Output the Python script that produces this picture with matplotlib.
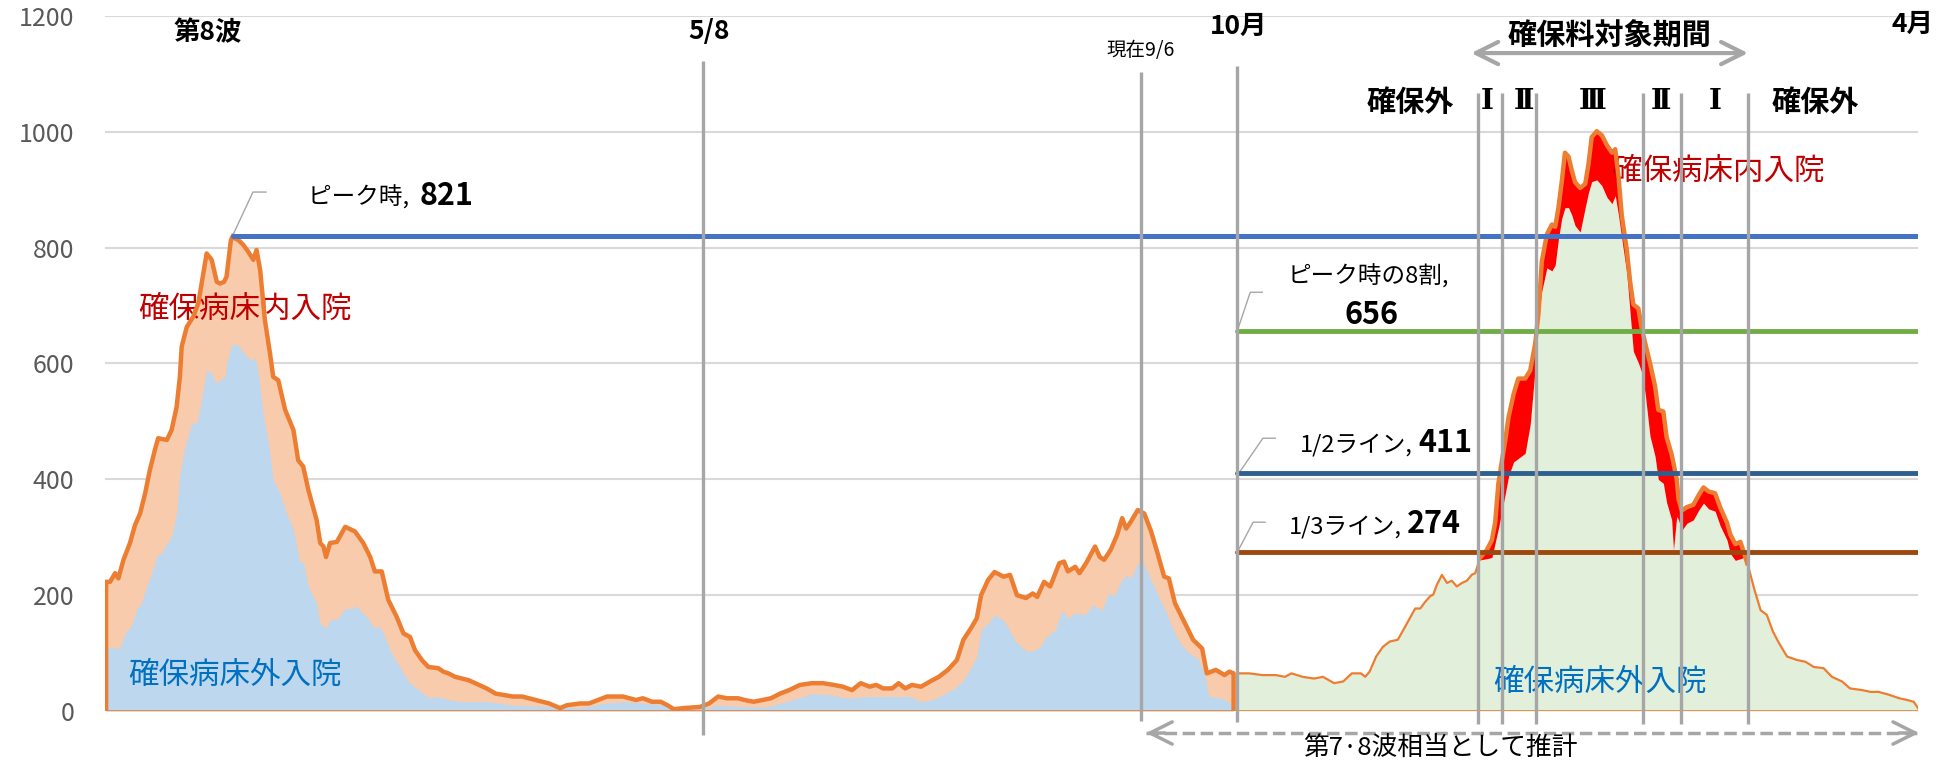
import numpy as np
import matplotlib.pyplot as plt

plt.rcParams['font.family'] = ['Noto Sans CJK JP', 'DejaVu Sans']

# 実績（第8波〜10月）: 経過日数, 入院者数合計
act_day = [0.3, 1.4, 2.8, 3.7, 5.1, 6.9, 8.3, 9.7, 11.1, 12.4,
           13.8, 14.7, 17.1, 18.4, 19.8, 20.7, 21.2, 22.6, 24.4, 25.8,
           26.7, 28.1, 29.5, 30.9, 31.8, 32.9, 33.6, 34.8, 35.4, 35.9,
           36.9, 38.2, 39.6, 41.0, 41.9, 42.9, 44.2, 45.6, 46.5, 47.9,
           49.8, 52.1, 53.4, 54.8, 56.2, 58.5, 59.5, 60.4, 61.1, 62.2,
           64.1, 66.4, 69.1, 71.4, 73.3, 74.6, 76.5, 78.3, 80.6, 82.5,
           84.3, 85.7, 87.6, 89.4, 92.1, 93.5, 94.9, 96.8, 100.6, 105.5,
           108.0, 112.8, 115.3, 119.1, 122.8, 125.8, 127.7, 131.3, 133.8, 136.3,
           138.8, 143.2, 145.0, 146.8, 148.7, 151.2, 153.6, 155.5, 157.3, 159.8,
           164.5, 167.0, 169.5, 171.9, 175.0, 176.8, 179.3, 181.8, 184.1, 186.6,
           189.1, 192.1, 195.4, 198.5, 201.5, 204.0, 206.5, 208.9, 211.4, 213.2,
           215.1, 217.6, 219.4, 221.2, 223.1, 225.6, 228.1, 230.5, 233.0, 235.5,
           237.3, 239.1, 241.0, 242.2, 244.1, 245.9, 248.4, 250.2, 252.1, 254.6,
           256.5, 257.7, 259.6, 261.3, 263.8, 265.1, 266.2, 268.2, 269.4, 271.2,
           273.7, 275.0, 276.2, 278.0, 279.8, 281.2, 282.3, 283.6, 285.5, 287.3,
           289.2, 291.0, 292.8, 294.1, 295.8, 299.0, 300.8, 303.3, 304.6, 307.1,
           309.5, 310.8, 312.0]
act_total = [223, 223, 238, 229, 261, 290, 321, 341, 376, 416,
             451, 471, 468, 485, 525, 577, 629, 663, 681, 704,
             738, 790, 779, 741, 738, 741, 750, 813, 821, 816,
             813, 805, 793, 779, 796, 761, 675, 618, 577, 571,
             520, 485, 433, 422, 382, 330, 290, 284, 266, 290,
             292, 318, 310, 290, 266, 241, 241, 192, 163, 134,
             128, 105, 88, 76, 74, 68, 65, 59, 53, 39,
             30, 25, 25, 19, 13, 5, 10, 13, 13, 19,
             25, 25, 22, 19, 22, 16, 16, 10, 3, 5,
             7, 13, 25, 22, 22, 19, 16, 19, 22, 30,
             36, 45, 48, 48, 45, 42, 36, 48, 42, 45,
             39, 39, 48, 39, 45, 42, 51, 59, 71, 88,
             123, 140, 160, 200, 226, 240, 232, 235, 200, 195,
             203, 197, 223, 215, 255, 258, 241, 249, 238, 255,
             284, 266, 261, 278, 304, 333, 315, 327, 347, 341,
             310, 272, 232, 229, 186, 146, 123, 108, 65, 71,
             62, 68, 65]

# 実績のうち確保病床外入院
out_day = [0.3, 4.1, 5.5, 7.4, 8.8, 10.1, 11.5, 12.9, 14.3, 15.0,
           15.7, 16.6, 18.4, 19.8, 20.7, 22.1, 24.0, 25.4, 26.3, 28.1,
           29.5, 30.7, 31.8, 33.2, 33.6, 35.0, 36.4, 38.2, 40.1, 41.5,
           42.4, 43.8, 45.2, 46.5, 48.4, 50.2, 52.1, 53.9, 54.8, 56.2,
           58.5, 59.5, 61.1, 62.2, 64.5, 66.4, 68.7, 69.6, 70.5, 72.3,
           74.6, 76.0, 77.4, 78.8, 80.6, 82.5, 84.3, 86.2, 88.0, 89.9,
           91.7, 93.5, 95.4, 98.2, 105.5, 112.8, 125.2, 131.3, 137.6, 143.8,
           149.9, 154.8, 158.6, 164.5, 169.5, 176.8, 183.0, 186.6, 191.6, 195.4,
           200.3, 205.1, 211.4, 217.6, 222.5, 225.6, 228.6, 231.7, 234.9, 237.3,
           239.1, 241.0, 242.2, 244.1, 245.9, 248.4, 250.2, 252.1, 255.2, 258.2,
           260.2, 262.7, 264.5, 266.2, 268.2, 270.7, 273.2, 275.6, 277.4, 279.2,
           280.5, 282.3, 283.6, 285.5, 286.7, 289.2, 291.7, 293.5, 295.3, 297.2,
           300.3, 302.1, 303.9, 305.2, 308.8, 312.0]
out_val = [111, 108, 134, 148, 177, 186, 215, 238, 266, 272,
           272, 284, 301, 341, 410, 456, 497, 497, 525, 589,
           583, 566, 571, 577, 600, 632, 634, 620, 606, 609,
           583, 508, 462, 399, 376, 341, 313, 255, 258, 215,
           186, 151, 143, 157, 160, 177, 177, 183, 174, 163,
           143, 146, 128, 105, 85, 65, 48, 39, 30, 22,
           25, 22, 19, 16, 16, 10, 7, 5, 13, 16,
           13, 10, 2, 3, 10, 7, 7, 13, 22, 30,
           28, 22, 25, 25, 25, 16, 19, 28, 39, 53,
           71, 94, 140, 151, 166, 157, 137, 117, 102, 108,
           128, 140, 174, 160, 169, 166, 183, 174, 203, 200,
           220, 235, 229, 255, 261, 226, 192, 169, 140, 117,
           97, 91, 65, 25, 22, 10]

# 推計（第7・8波相当）: 確保料対象期間の前
pre_day = [313.0, 316.3, 320.0, 323.7, 326.2, 328.0, 331.1, 334.2, 336.7, 339.8,
           342.3, 344.7, 347.2, 348.4, 349.6, 351.4, 353.3, 355.2, 357.4, 359.9,
           362.2, 363.6, 364.9, 366.3, 367.2, 368.2, 369.6, 371.0, 372.3, 373.7,
           375.1, 376.5, 377.8, 378.8]
pre_val = [65, 65, 62, 62, 59, 65, 59, 56, 59, 48,
           51, 65, 65, 59, 68, 94, 111, 120, 123, 151,
           177, 177, 188, 198, 201, 218, 235, 221, 225, 215,
           221, 225, 235, 238]

# 確保料対象期間: 合計と確保病床外
sec_day = [380.2, 382.0, 383.4, 384.3, 385.2, 386.2, 387.1, 388.0, 389.4, 390.7,
           392.6, 394.0, 395.4, 396.3, 397.2, 398.6, 400.0, 400.9, 401.8, 402.7,
           403.6, 404.6, 405.5, 406.4, 407.8, 409.2, 410.1, 411.0, 412.4, 413.8,
           415.2, 416.6, 417.5, 418.4, 419.3, 420.7, 421.6, 422.5, 423.9, 424.8,
           425.8, 427.1, 428.5, 429.4, 430.8, 431.7, 433.1, 433.6, 434.5, 435.0,
           435.9, 437.3, 439.1, 440.5, 441.9, 443.3, 445.1, 446.5, 448.4, 449.3,
           450.7, 452.1, 453.0, 454.0]
sec_total = [265, 278, 295, 325, 393, 433, 467, 507, 547, 574,
             574, 588, 635, 688, 776, 823, 840, 836, 869, 913,
             964, 957, 933, 913, 903, 910, 944, 991, 1001, 994,
             977, 964, 970, 923, 856, 796, 742, 702, 695, 661,
             635, 601, 561, 520, 517, 473, 443, 428, 400, 366,
             346, 352, 356, 372, 386, 379, 376, 352, 325, 305,
             288, 292, 275, 255]
sec_out = [261, 263, 265, 290, 315, 346, 375, 405, 430, 436,
           445, 495, 594, 682, 725, 765, 760, 770, 815, 850,
           869, 869, 856, 838, 827, 869, 895, 914, 917, 907,
           887, 876, 890, 856, 816, 755, 688, 621, 601, 585,
           547, 475, 440, 400, 393, 360, 330, 278, 336, 330,
           312, 324, 330, 346, 359, 349, 345, 320, 295, 272,
           260, 263, 265, 250]

# 確保料対象期間の後
post_day = [454.3, 456.0, 457.7, 459.4, 461.1, 462.8, 465.0, 467.8, 470.1, 472.4,
            475.1, 477.4, 480.2, 482.4, 485.8, 488.1, 490.3, 493.2, 496.0, 498.2,
            500.0, 501.2]
post_val = [249, 209, 174, 166, 137, 117, 94, 88, 85, 76,
            74, 59, 51, 39, 36, 33, 33, 28, 22, 19,
            16, 5]

peak = 821
levels = [656, 411, 274]
level_names = ['ピーク時の8割,', '1/2ライン,', '1/3ライン,']
level_colors = ['#70AD47', '#2E5F8F', '#9E480E']

# 日付の区切り線（経過日数）
day_58 = 165.3
day_now = 286.3
day_oct = 313.0
sec_lines = [379.5, 386.2, 395.5, 425.2, 435.7, 454.2]
phase_names = ['Ⅰ', 'Ⅱ', 'Ⅲ', 'Ⅱ', 'Ⅰ']
phase_pos = [382.0, 392.2, 411.3, 430.0, 445.2]

x_end = 501.2

fig = plt.figure(figsize=(19.39, 7.61), dpi=100)
ax = fig.add_axes([105 / 1939, 50 / 761, 1813 / 1939, 695 / 761])
ax.set_xlim(0, x_end)
ax.set_ylim(0, 1200)
for s in ax.spines.values():
    s.set_visible(False)
ax.set_xticks([])
ax.set_yticks(range(0, 1201, 200))
ax.tick_params(axis='y', length=0, pad=22, labelsize=18, labelcolor='#595959')
ax.yaxis.grid(True, color='#D9D9D9', lw=1.5)
ax.set_axisbelow(True)

# 実績
ax.fill_between(act_day, act_total, color='#F8CBAD', lw=0, zorder=1)
ax.fill_between(out_day, out_val, color='#BDD7EE', lw=0, zorder=1.2)
ax.plot(np.r_[act_day[0], act_day, act_day[-1]], np.r_[0, act_total, 0],
        color='#ED7D31', lw=3.2, zorder=3)

# 推計
g_day = np.r_[pre_day, sec_day, post_day]
g_val = np.r_[pre_val, sec_out, post_val]
ax.fill_between(g_day, g_val, color='#E2EFDA', lw=0, zorder=1)
ax.fill_between(sec_day, sec_out, sec_total, color='#FF0000', lw=0, zorder=1.3)
ax.plot(np.r_[pre_day[0], pre_day, sec_day[0]], np.r_[0, pre_val, sec_total[0]],
        color='#ED7D31', lw=1.6, zorder=3)
ax.plot(np.r_[sec_day[-1], post_day], np.r_[sec_total[-1], post_val],
        color='#ED7D31', lw=1.6, zorder=3)
ax.plot(sec_day, sec_total, color='#ED7D31', lw=3.2, zorder=3,
        solid_joinstyle='round')
ax.axhline(0, color='#ED7D31', lw=1.2, zorder=3)

# 基準線
ax.plot([35.3, x_end], [peak, peak], color='#4472C4', lw=3.6,
        solid_capstyle='round', zorder=5)
for lv, c in zip(levels, level_colors):
    ax.plot([day_oct, x_end], [lv, lv], color=c, lw=3.5,
            solid_capstyle='round', zorder=5)

# 縦線
gray = '#A6A6A6'
ax.vlines(day_58, -41, 1122, color=gray, lw=2.4, zorder=6, clip_on=False)
ax.vlines(day_now, -17, 1103, color=gray, lw=2.4, zorder=6, clip_on=False)
ax.vlines(day_oct, -19, 1114, color=gray, lw=2.4, zorder=6, clip_on=False)
ax.vlines(sec_lines, -22, 1067, color=gray, lw=2.4, zorder=6, clip_on=False)

# データラベル（引き出し線つき）
ax.plot([35.3, 40.9, 44.5], [peak, 896, 896], color=gray, lw=1, zorder=4)
ax.text(56.1, 874, 'ピーク時, ', fontsize=17, va='baseline', ha='left')
ax.text(87.1, 874, str(peak), fontsize=22, fontweight='bold', va='baseline', ha='left')

ax.plot([day_oct, 316.6, 319.9], [656, 723, 723], color=gray, lw=1, zorder=4)
ax.text(326.8, 738, level_names[0], fontsize=17, va='baseline', ha='left')
ax.text(350.1, 669, str(levels[0]), fontsize=22, fontweight='bold', va='baseline', ha='center')

ax.plot([313.5, 320.1, 323.5], [411, 471, 471], color=gray, lw=1, zorder=4)
ax.text(330.4, 448, level_names[1], fontsize=17, va='baseline', ha='left')
ax.text(363.0, 448, str(levels[1]), fontsize=22, fontweight='bold', va='baseline', ha='left')

ax.plot([day_oct, 317.4, 320.7], [274, 326, 326], color=gray, lw=1, zorder=4)
ax.text(327.4, 307, level_names[2], fontsize=17, va='baseline', ha='left')
ax.text(359.9, 307, str(levels[2]), fontsize=22, fontweight='bold', va='baseline', ha='left')

# 上部の見出し
ax.text(28.3, 1172, '第8波', fontsize=19, fontweight='bold', ha='center', va='center')
ax.text(167.0, 1174, '5/8', fontsize=19, fontweight='bold', ha='center', va='center')
ax.text(313.3, 1182, '10月', fontsize=19, fontweight='bold', ha='center', va='center')
ax.text(286.2, 1140, '現在9/6', fontsize=14, ha='center', va='center')
ax.text(499.6, 1186, '4月', fontsize=19, fontweight='bold', ha='center', va='center')
ax.text(415.8, 1166, '確保料対象期間', fontsize=21, fontweight='bold', ha='center', va='center')
ax.annotate('', xy=(377.7, 1136), xytext=(454.2, 1136),
            arrowprops=dict(arrowstyle='<->', color=gray, lw=3,
                            mutation_scale=40, shrinkA=0, shrinkB=0))
ax.text(360.8, 1052, '確保外', fontsize=21, fontweight='bold', ha='center', va='center')
ax.text(472.8, 1052, '確保外', fontsize=21, fontweight='bold', ha='center', va='center')
for name, pos in zip(phase_names, phase_pos):
    ax.text(pos, 1052, name, fontsize=20, fontweight='bold', ha='center', va='center',
            family=['DejaVu Serif', 'Noto Sans CJK JP'])

# 系列名
ax.text(38.7, 694, '確保病床内入院', fontsize=22, color='#C00000', ha='center', va='center', zorder=2.5)
ax.text(446.0, 932, '確保病床内入院', fontsize=22, color='#C00000', ha='center', va='center', zorder=2.5)
ax.text(35.9, 61, '確保病床外入院', fontsize=22, color='#0070C0', ha='center', va='center', zorder=2.5)
ax.text(413.3, 50, '確保病床外入院', fontsize=22, color='#0070C0', ha='center', va='center', zorder=2.5)

# 推計期間の矢印
ax.plot([287.8, 501.5], [-38, -38], color=gray, lw=2.5, ls=(0, (3.6, 1.6)), clip_on=False)
ax.annotate('', xy=(287.8, -38), xytext=(293.0, -38), annotation_clip=False,
            arrowprops=dict(arrowstyle='->', color=gray, lw=2.5,
                            mutation_scale=40, shrinkA=0, shrinkB=0))
ax.annotate('', xy=(501.5, -38), xytext=(496.0, -38), annotation_clip=False,
            arrowprops=dict(arrowstyle='->', color=gray, lw=2.5,
                            mutation_scale=40, shrinkA=0, shrinkB=0))
ax.text(369.1, -64, '第7·8波相当として推計', fontsize=18.5, ha='center', va='center')

fig.savefig('out.png', dpi=100)
